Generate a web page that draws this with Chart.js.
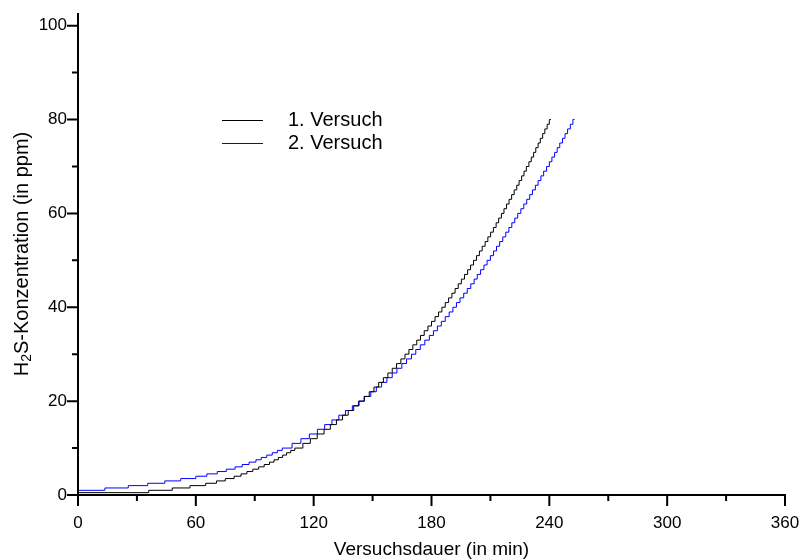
<!DOCTYPE html>
<html>
<head>
<meta charset="utf-8">
<script src="https://cdn.jsdelivr.net/npm/chart.js@4.4.0/dist/chart.umd.min.js"></script>
<style>
  html, body { margin: 0; padding: 0; background: #fff; }
</style>
</head>
<body>
<canvas id="chart" width="803" height="560"></canvas>
<script>
// Konzentrationsstufen (ppm) und Zeitpunkte (min), an denen die Stufe erreicht wird
const stufen = [0.5, 1, 1.5, 2, 2.5, 3, 3.5, 4, 4.5, 5, 5.5, 6, 6.5, 7, 7.5, 8, 8.5, 9, 9.5, 10,
  11, 12, 13, 14, 15, 16, 17, 18, 19, 20, 21, 22, 23, 24, 25, 26, 27, 28, 29, 30,
  31, 32, 33, 34, 35, 36, 37, 38, 39, 40, 41, 42, 43, 44, 45, 46, 47, 48, 49, 50,
  51, 52, 53, 54, 55, 56, 57, 58, 59, 60, 61, 62, 63, 64, 65, 66, 67, 68, 69, 70,
  71, 72, 73, 74, 75, 76, 77, 78, 79, 80];

// 1. Versuch
const zeit1 = [0, 36, 48, 57, 65, 70.5, 75, 79.5, 83, 86, 89, 92, 94.8, 97.5, 99.8, 102, 104.2, 106.2, 108.3, 110.4,
  114.5, 118.3, 121.8, 125.3, 128.5, 131.6, 134.7, 137.6, 140.4, 143.1, 145.7, 148.3, 150.7, 153.1, 155.5, 157.8, 160.0, 162.2, 164.4, 166.5,
  168.5, 170.5, 172.5, 174.4, 176.3, 178.2, 180.0, 181.8, 183.6, 185.3, 187.0, 188.7, 190.4, 192.0, 193.6, 195.2, 196.8, 198.4, 199.9, 201.4,
  202.9, 204.4, 205.8, 207.3, 208.7, 210.1, 211.5, 212.9, 214.2, 215.6, 216.9, 218.2, 219.5, 220.8, 222.1, 223.4, 224.6, 225.9, 227.1, 228.3,
  229.6, 230.8, 232.0, 233.1, 234.3, 235.4, 236.6, 237.7, 238.9, 240.0];

// 2. Versuch (beginnt bei 1 ppm)
const zeit2 = [null, 0, 13.7, 25.6, 35.5, 44.2, 52.3, 60, 65.6, 70.9, 75.5, 80, 83.6, 87.1, 90.6, 93.3, 96.1, 98.9, 101.5, 104.0,
  109.0, 113.5, 117.8, 121.9, 125.6, 129.3, 132.8, 136.2, 139.7, 142.8, 145.9, 149.1, 151.9, 154.6, 157.3, 160.0, 162.4, 164.9, 167.3, 169.8,
  172.0, 174.3, 176.6, 178.9, 181.0, 183.0, 185.0, 187.0, 189.0, 190.9, 192.7, 194.5, 196.4, 198.2, 200.0, 201.7, 203.3, 205.0, 206.7, 208.3,
  210.0, 211.6, 213.1, 214.7, 216.3, 217.8, 219.4, 220.9, 222.4, 223.9, 225.5, 227.0, 228.5, 230.0, 231.4, 232.9, 234.3, 235.7, 237.1, 238.6,
  240.0, 241.3, 242.7, 244.0, 245.3, 246.7, 248.0, 249.3, 250.7, 252.0];

// Messende (letzter Punkt auf 80 ppm)
const ende = [240.8, 252.8];

const serien = ['1. Versuch', '2. Versuch'];
const farben = ['#000000', '#0000ff'];

const xTicks = [0, 60, 120, 180, 240, 300, 360];
const xMinor = [30, 90, 150, 210, 270, 330];
const yTicks = [0, 20, 40, 60, 80, 100];
const yMinor = [10, 30, 50, 70, 90];

const FONT = '"Liberation Sans", Arial, sans-serif';

function punkte(zeiten, endZeit) {
  const pts = [];
  zeiten.forEach((t, i) => {
    if (t !== null) pts.push({ x: t, y: stufen[i] });
  });
  pts.push({ x: endZeit, y: stufen[stufen.length - 1] });
  return pts;
}

// Achsen, Ticks, Beschriftungen und Legende im Origin-Stil
const achsenPlugin = {
  id: 'achsenPlugin',
  afterDraw(chart) {
    const { ctx, chartArea: { left, right, top, bottom }, scales: { x, y } } = chart;
    ctx.save();
    ctx.strokeStyle = '#000';
    ctx.fillStyle = '#000';
    ctx.lineWidth = 2;

    // Achsenlinien
    ctx.beginPath();
    ctx.moveTo(left, top);
    ctx.lineTo(left, bottom + 1);
    ctx.moveTo(left - 1, bottom);
    ctx.lineTo(right + 1, bottom);
    ctx.stroke();

    // Ticks
    ctx.beginPath();
    xTicks.forEach(v => { const px = x.getPixelForValue(v); ctx.moveTo(px, bottom); ctx.lineTo(px, bottom + 11); });
    xMinor.forEach(v => { const px = x.getPixelForValue(v); ctx.moveTo(px, bottom); ctx.lineTo(px, bottom + 6); });
    yTicks.forEach(v => { const py = y.getPixelForValue(v); ctx.moveTo(left, py); ctx.lineTo(left - 11, py); });
    yMinor.forEach(v => { const py = y.getPixelForValue(v); ctx.moveTo(left, py); ctx.lineTo(left - 6, py); });
    ctx.stroke();

    // Tick-Beschriftungen
    ctx.font = '17px ' + FONT;
    ctx.textAlign = 'center';
    ctx.textBaseline = 'middle';
    xTicks.forEach(v => ctx.fillText(String(v), x.getPixelForValue(v), bottom + 28));
    ctx.textAlign = 'right';
    yTicks.forEach(v => ctx.fillText(String(v), left - 11, y.getPixelForValue(v)));

    // x-Achsentitel
    ctx.font = '19px ' + FONT;
    ctx.textAlign = 'center';
    ctx.fillText('Versuchsdauer (in min)', (left + right) / 2, bottom + 55);

    // y-Achsentitel mit tiefgestellter 2
    ctx.save();
    ctx.translate(22, (top + bottom) / 2);
    ctx.rotate(-Math.PI / 2);
    ctx.textAlign = 'left';
    const teil1 = 'H', teil2 = '2', teil3 = 'S-Konzentration (in ppm)';
    ctx.font = '20px ' + FONT;
    const w1 = ctx.measureText(teil1).width;
    const w3 = ctx.measureText(teil3).width;
    ctx.font = '14px ' + FONT;
    const w2 = ctx.measureText(teil2).width;
    const start = -(w1 + w2 + w3) / 2;
    ctx.font = '20px ' + FONT;
    ctx.fillText(teil1, start, 0);
    ctx.font = '14px ' + FONT;
    ctx.fillText(teil2, start + w1, 5);
    ctx.font = '20px ' + FONT;
    ctx.fillText(teil3, start + w1 + w2, 0);
    ctx.restore();

    // Legende
    ctx.font = '20px ' + FONT;
    ctx.textAlign = 'left';
    serien.forEach((name, i) => {
      const ly = 120 + i * 23;
      ctx.fillStyle = farben[i];
      ctx.fillRect(222, ly, 41, 1);
      ctx.fillStyle = '#000';
      ctx.fillText(name, 288, ly);
    });
    ctx.restore();
  }
};

new Chart(document.getElementById('chart'), {
  type: 'line',
  data: {
    datasets: [
      { label: serien[0], data: punkte(zeit1, ende[0]), borderColor: farben[0], borderWidth: 1, stepped: true, pointRadius: 0, fill: false },
      { label: serien[1], data: punkte(zeit2, ende[1]), borderColor: farben[1], borderWidth: 1, stepped: true, pointRadius: 0, fill: false }
    ]
  },
  options: {
    responsive: false,
    animation: false,
    devicePixelRatio: 1,
    layout: { padding: { left: 78, right: 18, top: 13, bottom: 65 } },
    scales: {
      x: { type: 'linear', min: 0, max: 360, display: false },
      y: { type: 'linear', min: 0, max: 102.7, display: false }
    },
    plugins: {
      legend: { display: false },
      tooltip: { enabled: false }
    }
  },
  plugins: [achsenPlugin]
});
</script>
</body>
</html>
